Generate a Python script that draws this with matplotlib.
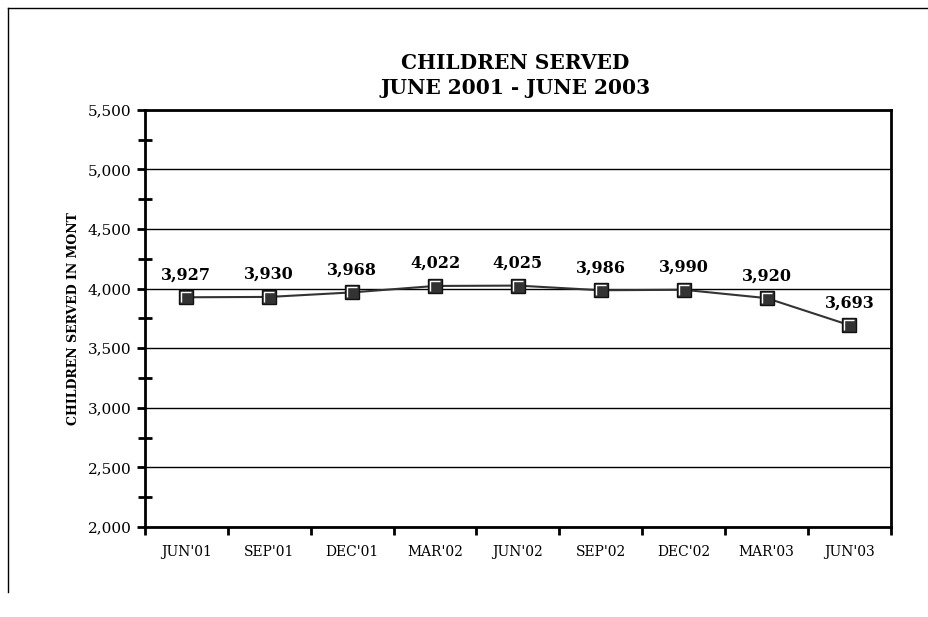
import matplotlib.pyplot as plt
from matplotlib.lines import Line2D
from matplotlib.ticker import MultipleLocator, FuncFormatter

# Datos
months = ["JUN'01", "SEP'01", "DEC'01", "MAR'02", "JUN'02", "SEP'02", "DEC'02", "MAR'03", "JUN'03"]
served = [3927, 3930, 3968, 4022, 4025, 3986, 3990, 3920, 3693]

plt.rcParams['font.family'] = ['DejaVu Serif']

fig = plt.figure(figsize=(9.29, 6.17), dpi=100)
ax = fig.add_axes([0.156, 0.146, 0.803, 0.676])

x = [i + 0.5 for i in range(len(months))]
ax.plot(x, served, color='#333333', linewidth=1.5, marker='s', markersize=10,
        markerfacecolor='#333333', markeredgecolor='#111111', markeredgewidth=1, zorder=3)
# brillo blanco arriba/izquierda del marcador
ax.plot(x, served, linestyle='none', marker=[(-1, -1), (-1, 1), (1, 1)], markersize=7,
        markerfacecolor='none', markeredgecolor='white', markeredgewidth=1, zorder=4)
for xi, v in zip(x, served):
    ax.annotate(f'{v:,}', (xi, v), xytext=(0, 10), textcoords='offset points',
                ha='center', va='bottom', fontsize=11.5, fontweight='bold')

ax.set_xlim(0, len(months))
ax.set_ylim(2000, 5500)
ax.yaxis.set_major_locator(MultipleLocator(500))
ax.yaxis.set_minor_locator(MultipleLocator(250))
ax.yaxis.set_major_formatter(FuncFormatter(lambda v, p: f'{int(v):,}'))
ax.set_xticks(range(len(months) + 1))
ax.set_xticklabels([])
ax.set_xticks(x, minor=True)
ax.set_xticklabels(months, minor=True)
ax.tick_params(axis='x', which='minor', length=0, pad=13, labelsize=10)
ax.tick_params(axis='x', which='major', length=6, width=2, direction='out')
ax.tick_params(axis='y', which='major', length=6, width=2, direction='out', labelsize=11)
ax.tick_params(axis='y', which='minor', length=10, width=2, direction='inout')
ax.grid(axis='y', which='major', color='black', linewidth=1)
ax.set_axisbelow(True)
for s in ax.spines.values():
    s.set_linewidth(2)

ax.set_ylabel('CHILDREN SERVED IN MONT', fontsize=9, fontweight='bold', labelpad=6)
fig.text(0.555, 0.898, 'CHILDREN SERVED', ha='center', va='center', fontsize=14.5, fontweight='bold')
fig.text(0.555, 0.857, 'JUNE 2001 - JUNE 2003', ha='center', va='center', fontsize=14.5, fontweight='bold')

# marco de pagina
fig.add_artist(Line2D([8/929, 1], [1 - 8/617, 1 - 8/617], color='black', linewidth=1))
fig.add_artist(Line2D([8/929, 8/929], [1 - 8/617, 1 - 592/617], color='black', linewidth=1))

fig.savefig('out.png', dpi=100)
